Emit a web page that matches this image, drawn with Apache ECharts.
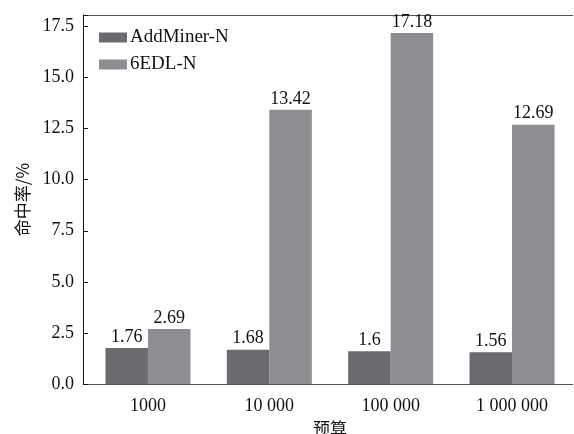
<!DOCTYPE html>
<html><head><meta charset="utf-8">
<script src="https://cdn.jsdelivr.net/npm/echarts@6/dist/echarts.min.js"></script>
<style>html,body{margin:0;padding:0;background:#fff}#c{width:574px;height:434px}</style>
</head><body><div id="c"></div>
<script>
const categories = ['1000', '10 000', '100 000', '1 000 000'];
const addMiner = [1.76, 1.68, 1.6, 1.56];
const edl6 = [2.69, 13.42, 17.18, 12.69];
const yTicks = [0, 2.5, 5, 7.5, 10, 12.5, 15, 17.5];
const seriesNames = ['AddMiner-N', '6EDL-N'];

const FONT = '"Liberation Serif", "Noto Sans CJK SC", serif';
const chart = echarts.init(document.getElementById('c'), null, {renderer: 'canvas'});
const lbl = {show: true, position: 'top', distance: 2, color: '#111', fontFamily: FONT, fontSize: 18};
chart.setOption({
  animation: false,
  textStyle: {fontFamily: FONT},
  grid: {left: 87.3, right: 1.3, top: 15, bottom: 50, containLabel: false, outerBoundsMode: 'none'},
  legend: {
    left: 94, top: 23, orient: 'vertical', itemWidth: 28, itemHeight: 10, itemGap: 8,
    icon: 'rect',
    textStyle: {fontFamily: FONT, fontSize: 19, color: '#111', padding: [0, 0, 0, -2]},
    data: seriesNames
  },
  xAxis: [{
    type: 'category', data: categories,
    name: '预算', nameLocation: 'middle', nameGap: 31,
    nameTextStyle: {fontFamily: '"Noto Sans CJK SC", serif', fontSize: 17, color: '#111'},
    axisLine: {lineStyle: {color: '#555', width: 1}},
    axisTick: {inside: true, alignWithLabel: true, length: 4, lineStyle: {color: '#111'}},
    axisLabel: {margin: 13, fontFamily: FONT, fontSize: 18, color: '#111'}
  }, {
    type: 'category', data: categories, position: 'top',
    axisLine: {lineStyle: {color: '#555', width: 1}},
    axisTick: {show: false}, axisLabel: {show: false}
  }],
  yAxis: {
    type: 'value', min: 0, max: 18.06, interval: 2.5, offset: 4.3,
    name: '命中率/%', nameLocation: 'middle', nameGap: 52,
    nameTextStyle: {fontFamily: '"Noto Sans CJK SC", serif', fontSize: 17, color: '#111'},
    axisLine: {show: true, lineStyle: {color: '#111', width: 1}},
    axisTick: {show: true, inside: true, length: 5, lineStyle: {color: '#111'}},
    splitLine: {show: false},
    axisLabel: {margin: 9, fontFamily: FONT, fontSize: 18, color: '#111',
      formatter: v => (yTicks.includes(v) ? v.toFixed(1) : '')},
    showMaxLabel: false
  },
  series: [
    {name: seriesNames[0], type: 'bar', data: addMiner, barWidth: 42.5, barGap: '0%',
     itemStyle: {color: '#6b6b6f'}, label: lbl},
    {name: seriesNames[1], type: 'bar', data: edl6, barWidth: 42.5, barGap: '0%',
     itemStyle: {color: '#8e8d92'}, label: lbl}
  ]
});
</script></body></html>
